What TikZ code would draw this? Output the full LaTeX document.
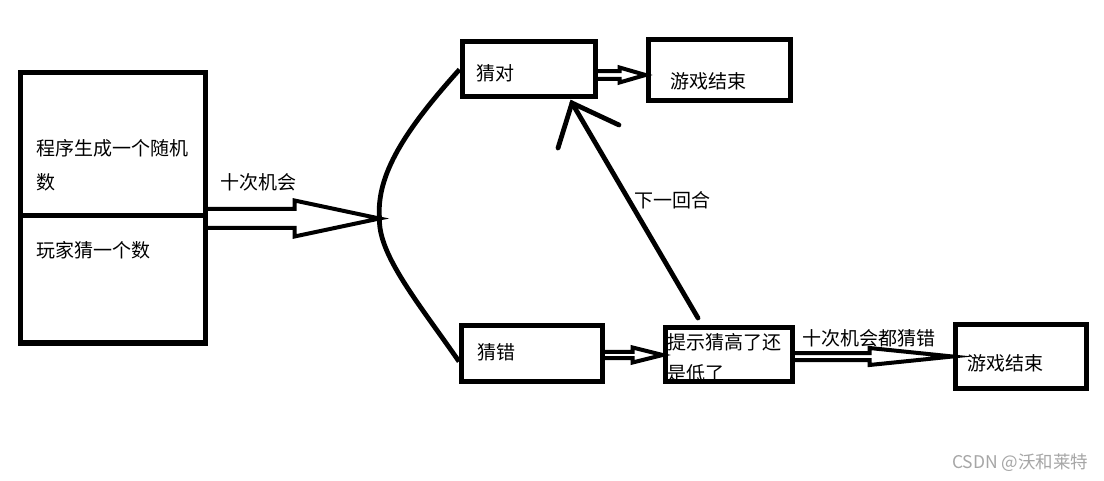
\documentclass[tikz,border=0pt]{standalone}
\usepackage{fontspec}
\setmainfont{Noto Sans CJK SC}
\usetikzlibrary{calc}
\newcommand{\harrow}[5]{%
  \draw[hollow] ($(#1)+(0,-#3)$) -- ($(#2)+(-#5,-#3)$) -- ($(#2)+(-#5,-#4)$) -- (#2)
    -- ($(#2)+(-#5,#4)$) -- ($(#2)+(-#5,#3)$) -- ($(#1)+(0,#3)$);}
\begin{document}
\begin{tikzpicture}[x=1pt,y=-1pt,
  box/.style={draw, line width=5pt, inner sep=0pt},
  txt/.style={anchor=west, inner sep=0pt, font=\fontsize{19}{23}\selectfont},
  hollow/.style={line width=4pt, line join=miter},
  curve/.style={line width=4.8pt},
  wmark/.style={anchor=west, inner sep=0pt, text=black!35, font=\fontsize{17.5}{21}\selectfont}]
\useasboundingbox[fill=white] (0,0) rectangle (1104,481);

% texts (drawn first so box borders lie on top)
\node[txt] (t1) at (36,148) {程序生成一个随机};
\node[txt] (t2) at (36,182) {数};
\node[txt] (t3) at (36,250) {玩家猜一个数};
\node[txt] (t4) at (220,182) {十次机会};
\node[txt] (t5) at (476,73) {猜对};
\node[txt] (t6) at (670,81) {游戏结束};
\node[txt] (t7) at (477,352) {猜错};
\begin{scope}
  \clip (665,328) rectangle (792,380);
  \node[txt] (t8) at (667,342) {提示猜高了还};
  \node[txt] (t9) at (667,373) {是低了};
\end{scope}
\node[txt] (t10) at (802,338) {十次机会都猜错};
\node[txt] (t11) at (967,363) {游戏结束};
\node[txt] (t12) at (634,200) {下一回合};
\node[wmark] (wm) at (952,463) {CSDN @沃和莱特};

% boxes
\node[box, minimum width=185pt, minimum height=143pt] (prog) at (112.5,144.5) {};
\node[box, minimum width=185pt, minimum height=127pt] (player) at (112.5,279.5) {};
\node[box, minimum width=133pt, minimum height=55pt] (right) at (528.5,69.5) {};
\node[box, minimum width=142pt, minimum height=61pt] (end1) at (719,70.5) {};
\node[box, minimum width=141pt, minimum height=55pt] (wrong) at (532,353.5) {};
\node[box, minimum width=127pt, minimum height=53pt] (hint) at (728.5,354.5) {};
\node[box, minimum width=131pt, minimum height=63pt] (end2) at (1020.5,356.5) {};

% fork
\coordinate (fork) at ($(prog.south east)+(172,0)$);
\harrow{prog.south east}{fork}{9.5}{18}{85}
\draw[curve] (fork) .. controls (376,175) and (405,130) .. (right.west);
\draw[curve] (fork) .. controls (378,255) and (420,305) .. ($(wrong.west)+(0,8)$);

% hollow arrows between boxes
\coordinate (a1s) at ($(right.east)+(0,5.5)$);
\coordinate (a1e) at (end1.west |- a1s);
\harrow{a1s}{a1e}{3.8}{7.5}{26}
\coordinate (a2s) at ($(wrong.east)+(0,1.5)$);
\coordinate (a2e) at (hint.west |- a2s);
\harrow{a2s}{a2e}{3.2}{7.5}{30}
\coordinate (a3s) at ($(hint.east)+(0,2)$);
\coordinate (a3e) at (end2.west |- a3s);
\harrow{a3s}{a3e}{3.5}{8.5}{83}

% next round arrow
\coordinate (nr0) at (698,318);
\coordinate (nr1) at (572,103);
\draw[curve, line cap=round] (nr0) -- (nr1);
\draw[curve, line cap=round] (558,148) -- (nr1) -- (619,125);
\end{tikzpicture}
\end{document}
